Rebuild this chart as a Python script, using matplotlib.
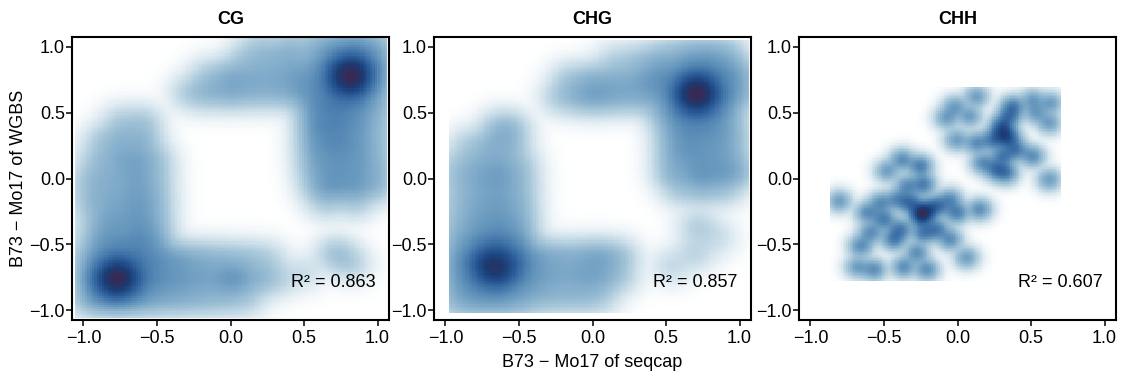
import numpy as np
import matplotlib
matplotlib.use("Agg")
import matplotlib.pyplot as plt
from matplotlib.colors import LinearSegmentedColormap

plt.rcParams['font.family'] = ['Liberation Sans', 'DejaVu Sans']

# ---------------- data ----------------
titles = ["CG", "CHG", "CHH"]
r2_labels = ["R\u00b2 = 0.863", "R\u00b2 = 0.857", "R\u00b2 = 0.607"]
tick_values = [-1.0, -0.5, 0.0, 0.5, 1.0]
tick_labels = ["\u22121.0", "\u22120.5", "0.0", "0.5", "1.0"]

# CG: density anchors (x, y, level)
cg_x = [0.58, 0.72, 0.86, 1.00, 0.58, 0.72, 0.86, 1.00, 0.58, 0.72, 0.86, 1.00,
        0.58, 0.72, 0.86, 1.00, 0.58, 0.72, 0.86, 1.00, 0.58, 0.72, 0.86, 1.00,
        0.58, 0.72, 0.86, 1.00, 0.60, 0.72, 0.86, 1.00, 0.65, 0.85,
        0.82, 0.73, 0.91, 0.82, 0.82, 0.76, 0.88, 0.76, 0.88,
        -0.28, -0.15, 0.00, 0.15, 0.30, 0.45, -0.15, 0.00, 0.15, 0.30, 0.45, 0.10, 0.25, 0.40, 0.20, 0.40,
        -0.75, -0.60, -0.88, -0.75, -0.60, -0.92, -0.78, -0.65, -0.52,
        -0.95, -0.80, -0.65, -0.52, -0.95, -0.80, -0.65, -0.52, -0.92, -0.80, -0.65, -0.52,
        -0.92, -0.80, -0.65, -0.52, -0.95, -0.80, -0.65, -0.50, -0.95, -0.80, -0.65, -0.50,
        -0.95, -0.80, -0.65, -0.50,
        -0.78, -0.87, -0.69, -0.78, -0.78, -0.84, -0.72, -0.84, -0.72,
        -0.35, -0.20, -0.05, 0.10, 0.25, -0.35, -0.20, -0.05, 0.05, 0.20, 0.33,
        -0.35, -0.20, -0.05, 0.10,
        0.72, 0.82, 0.50]
cg_y = [1.00, 1.00, 1.00, 1.00, 0.85, 0.85, 0.85, 0.85, 0.70, 0.70, 0.70, 0.70,
        0.55, 0.55, 0.55, 0.55, 0.40, 0.40, 0.40, 0.40, 0.25, 0.25, 0.25, 0.25,
        0.10, 0.10, 0.10, 0.10, -0.05, -0.05, -0.05, -0.05, -0.18, -0.18,
        0.78, 0.78, 0.78, 0.69, 0.87, 0.72, 0.84, 0.84, 0.72,
        0.65, 0.65, 0.65, 0.65, 0.65, 0.65, 0.78, 0.78, 0.78, 0.78, 0.78, 0.92, 0.92, 0.92, 1.02, 1.02,
        0.42, 0.42, 0.28, 0.28, 0.28, 0.13, 0.13, 0.13, 0.13,
        -0.02, -0.02, -0.02, -0.02, -0.17, -0.17, -0.17, -0.17, -0.32, -0.32, -0.32, -0.32,
        -0.47, -0.47, -0.47, -0.47, -0.62, -0.62, -0.62, -0.62, -0.77, -0.77, -0.77, -0.77,
        -0.92, -0.92, -0.92, -0.92,
        -0.77, -0.77, -0.77, -0.86, -0.68, -0.83, -0.71, -0.71, -0.83,
        -0.62, -0.62, -0.62, -0.62, -0.62, -0.77, -0.77, -0.77, -0.77, -0.77, -0.77,
        -0.92, -0.92, -0.92, -0.92,
        -0.58, -0.65, -0.72]
cg_level = [0.40, 0.50, 0.55, 0.45, 0.45, 0.60, 0.65, 0.50, 0.50, 0.62, 0.62, 0.45,
            0.55, 0.60, 0.55, 0.40, 0.55, 0.58, 0.50, 0.35, 0.50, 0.55, 0.50, 0.35,
            0.45, 0.50, 0.48, 0.38, 0.42, 0.50, 0.48, 0.40, 0.30, 0.30,
            0.72, 0.42, 0.42, 0.42, 0.42, 0.42, 0.42, 0.42, 0.42,
            0.30, 0.38, 0.42, 0.38, 0.38, 0.42, 0.30, 0.42, 0.40, 0.40, 0.45, 0.30, 0.35, 0.38, 0.25, 0.30,
            0.30, 0.32, 0.30, 0.38, 0.38, 0.32, 0.40, 0.45, 0.35,
            0.38, 0.40, 0.45, 0.35, 0.38, 0.42, 0.48, 0.38, 0.35, 0.45, 0.50, 0.40,
            0.42, 0.50, 0.55, 0.48, 0.50, 0.62, 0.62, 0.55, 0.55, 0.65, 0.60, 0.55,
            0.50, 0.55, 0.52, 0.45,
            0.72, 0.42, 0.42, 0.42, 0.42, 0.42, 0.42, 0.42, 0.42,
            0.48, 0.42, 0.38, 0.35, 0.28, 0.50, 0.45, 0.45, 0.48, 0.38, 0.25,
            0.42, 0.38, 0.35, 0.30,
            0.35, 0.28, 0.20]

# CHG: density anchors (x, y, level)
chg_x = [0.50, 0.64, 0.78, 0.92, 0.50, 0.64, 0.78, 0.92, 1.03, 0.50, 0.64, 0.78, 0.92, 1.03,
         0.50, 0.64, 0.78, 0.92, 0.55, 0.68, 0.82, 0.95, 0.55, 0.68, 0.82, 0.95,
         0.55, 0.72, 0.85, 0.98, 0.60, 0.75, 0.90,
         0.71, 0.62, 0.80, 0.71, 0.71, 0.65, 0.77, 0.65, 0.77,
         -0.22, -0.08, 0.05, 0.20, 0.35, -0.15, 0.00, 0.15, 0.30, 0.42, 0.15, 0.30, 0.42,
         0.72, 0.70, 0.54, 0.85,
         -0.64, -0.55, -0.85, -0.70, -0.56, -0.92, -0.78, -0.64, -0.50,
         -0.92, -0.78, -0.64, -0.50, -0.92, -0.78, -0.64, -0.50, -0.92, -0.78, -0.64, -0.50,
         -0.92, -0.78, -0.64, -0.50, -0.92, -0.78, -0.50, -0.92, -0.78, -0.64, -0.50,
         -0.92, -0.78, -0.64, -0.50,
         -0.66, -0.75, -0.57, -0.66, -0.66, -0.72, -0.60, -0.72, -0.60,
         -0.36, -0.22, -0.08, 0.05, 0.18, -0.36, -0.22, -0.08, 0.05, 0.18,
         -0.36, -0.22, -0.08, 0.05]
chg_y = [0.95, 0.95, 0.95, 0.95, 0.80, 0.80, 0.80, 0.80, 0.80, 0.65, 0.65, 0.65, 0.65, 0.65,
         0.50, 0.50, 0.50, 0.50, 0.35, 0.35, 0.35, 0.35, 0.20, 0.20, 0.20, 0.20,
         0.05, 0.05, 0.05, 0.05, -0.08, -0.08, -0.08,
         0.65, 0.65, 0.65, 0.56, 0.74, 0.59, 0.71, 0.71, 0.59,
         0.62, 0.62, 0.62, 0.62, 0.62, 0.75, 0.75, 0.75, 0.75, 0.75, 0.90, 0.90, 0.90,
         -0.37, -0.57, -0.67, -0.45,
         0.38, 0.38, 0.25, 0.25, 0.25, 0.10, 0.10, 0.10, 0.10,
         -0.03, -0.03, -0.03, -0.03, -0.18, -0.18, -0.18, -0.18, -0.33, -0.33, -0.33, -0.33,
         -0.48, -0.48, -0.48, -0.48, -0.63, -0.63, -0.63, -0.78, -0.78, -0.78, -0.78,
         -0.93, -0.93, -0.93, -0.93,
         -0.66, -0.66, -0.66, -0.75, -0.57, -0.72, -0.60, -0.60, -0.72,
         -0.60, -0.60, -0.60, -0.60, -0.60, -0.75, -0.75, -0.75, -0.75, -0.75,
         -0.90, -0.90, -0.90, -0.90]
chg_level = [0.30, 0.42, 0.45, 0.40, 0.42, 0.55, 0.58, 0.50, 0.35, 0.45, 0.60, 0.60, 0.50, 0.35,
             0.45, 0.58, 0.58, 0.45, 0.45, 0.52, 0.50, 0.40, 0.42, 0.50, 0.45, 0.40,
             0.42, 0.50, 0.45, 0.45, 0.30, 0.35, 0.30,
             0.72, 0.42, 0.42, 0.42, 0.42, 0.42, 0.42, 0.42, 0.42,
             0.30, 0.40, 0.45, 0.40, 0.40, 0.32, 0.40, 0.40, 0.40, 0.42, 0.25, 0.30, 0.32,
             0.28, 0.25, 0.22, 0.20,
             0.35, 0.32, 0.28, 0.38, 0.35, 0.30, 0.38, 0.42, 0.32,
             0.32, 0.40, 0.45, 0.35, 0.32, 0.42, 0.45, 0.38, 0.35, 0.45, 0.50, 0.42,
             0.42, 0.52, 0.58, 0.50, 0.50, 0.60, 0.58, 0.48, 0.58, 0.60, 0.52,
             0.42, 0.48, 0.48, 0.42,
             0.72, 0.42, 0.42, 0.42, 0.42, 0.42, 0.42, 0.42, 0.42,
             0.45, 0.40, 0.40, 0.45, 0.35, 0.45, 0.40, 0.42, 0.42, 0.30,
             0.38, 0.35, 0.35, 0.30]

# CHH: individual points with weights
chh_x = [0.127, -0.02, -0.077, 0.081, 0.376, 0.511, 0.636, 0.625, 0.534, 0.127, 0.24, 0.308,
         0.353, 0.398, 0.511, 0.262, 0.172, 0.33, 0.625, -0.009, 0.308, 0.30, 0.35,
         -0.812, -0.484, -0.382, -0.258, -0.235, -0.348, -0.247, -0.326, -0.145, -0.009,
         0.149, -0.62, -0.529, -0.507, -0.439, -0.597, -0.394, -0.235, -0.145, -0.054,
         0.059, -0.688, -0.575, -0.371, -0.213, -0.281, -0.665, -0.416, -0.054, -0.25, -0.22]
chh_y = [0.62, 0.544, 0.456, 0.468, 0.544, 0.595, 0.57, 0.418, 0.494, 0.266, 0.29, 0.342,
         0.468, 0.215, 0.165, 0.063, 0.114, 0.038, -0.013, 0.29, 0.165, 0.40, 0.30,
         -0.177, 0.051, 0.139, 0.089, -0.051, -0.063, -0.266, -0.19, -0.215, -0.266,
         -0.24, -0.266, -0.19, -0.316, -0.468, -0.418, -0.392, -0.418, -0.392, -0.468,
         -0.608, -0.68, -0.70, -0.68, -0.70, -0.57, -0.519, -0.165, -0.165, -0.30, -0.25]
chh_level = [0.7, 0.7, 0.7, 0.7, 0.9, 0.7, 0.7, 0.7, 0.7, 0.8, 0.9, 1.0,
             0.9, 0.9, 0.8, 0.9, 0.8, 0.9, 0.7, 0.7, 0.9, 0.9, 1.0,
             0.7, 0.7, 0.8, 0.9, 0.9, 0.8, 1.05, 1.0, 1.0, 0.9,
             0.8, 0.8, 0.8, 0.9, 0.9, 0.8, 0.9, 0.9, 0.9, 0.8,
             0.7, 0.7, 0.8, 0.8, 0.8, 0.8, 0.8, 0.8, 0.8, 0.95, 0.9]

panels_x = [cg_x, chg_x, chh_x]
panels_y = [cg_y, chg_y, chh_y]
panels_level = [cg_level, chg_level, chh_level]
bandwidths = [0.08, 0.08, 0.048]
extents = [(-1.06, 1.06, -1.06, 1.06), (-0.975, 1.06, -1.02, 1.05), (-0.87, 0.70, -0.78, 0.687)]

# ---------------- plotting ----------------
cmap = LinearSegmentedColormap.from_list(
    "sm", ["#ffffff", "#d4e4ed", "#a9c8da", "#84aecb", "#5e90b9", "#3f72a8", "#265693",
           "#1c3c74", "#382a55"])

W, H = 1126, 380
fig = plt.figure(figsize=(W / 100, H / 100), dpi=100)
lefts = [72, 434, 799]
axw, axh = 317, 283
axtop = 37
FS = 13

for i in range(3):
    ax = fig.add_axes([lefts[i] / W, 1 - (axtop + axh) / H, axw / W, axh / H])
    xs = np.array(panels_x[i]); ys = np.array(panels_y[i])
    ws = np.array(panels_level[i]) ** 2
    ext = extents[i]
    s = bandwidths[i]
    gx = np.linspace(ext[0], ext[1], 128)
    gy = np.linspace(ext[2], ext[3], 128)
    X, Y = np.meshgrid(gx, gy)
    D = np.zeros_like(X)
    for x, y, w in zip(xs, ys, ws):
        D += w * np.exp(-((X - x) ** 2 + (Y - y) ** 2) / (2 * s ** 2))
    D = np.sqrt(D / D.max())
    ax.imshow(D, origin="lower", extent=ext, cmap=cmap, vmin=0, vmax=1,
              interpolation="nearest", aspect="auto")
    ax.set_xlim(-1.078, 1.078)
    ax.set_ylim(-1.075, 1.075)
    ax.set_xticks(tick_values)
    ax.set_xticklabels(tick_labels)
    ax.set_yticks(tick_values)
    ax.set_yticklabels(tick_labels)
    ax.tick_params(direction="out", length=4, width=1.1, labelsize=FS, colors="black")
    ax.tick_params(axis="x", pad=3)
    ax.tick_params(axis="y", pad=1)
    for sp in ax.spines.values():
        sp.set_linewidth(1.5)
    ax.set_title(titles[i], fontsize=FS, fontweight="bold", pad=9)
    ax.text(0.7, -0.79, r2_labels[i], ha="center", va="center", fontsize=FS)
    if i == 0:
        ax.set_ylabel("B73 \u2212 Mo17 of WGBS", fontsize=FS, labelpad=2)
    if i == 1:
        ax.set_xlabel("B73 \u2212 Mo17 of seqcap", fontsize=FS, labelpad=5)

fig.savefig("out.png", dpi=100)
